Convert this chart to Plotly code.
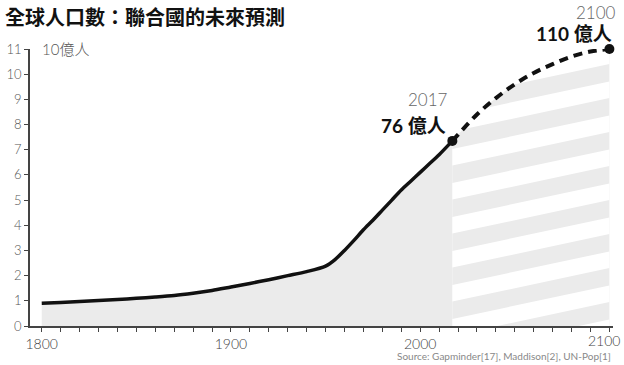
import numpy as np
import plotly.graph_objects as go

# ---- data ----
hist_years = [1800, 1810, 1820, 1830, 1840, 1850, 1860, 1870, 1880, 1890, 1900,
              1910, 1920, 1930, 1940, 1950, 1955, 1960, 1965, 1970, 1975, 1980,
              1985, 1990, 1995, 2000, 2005, 2010, 2017]
hist_pop = [0.90, 0.93, 0.97, 1.01, 1.05, 1.10, 1.15, 1.21, 1.30, 1.41, 1.55,
            1.69, 1.84, 2.00, 2.16, 2.38, 2.64, 3.00, 3.40, 3.82, 4.20, 4.60,
            5.00, 5.40, 5.75, 6.10, 6.45, 6.80, 7.35]

proj_years = [2017, 2020, 2030, 2040, 2050, 2060, 2070, 2080, 2090, 2100]
proj_pop = [7.35, 7.60, 8.40, 9.05, 9.60, 10.05, 10.40, 10.70, 10.90, 11.00]

x_tick_vals = list(range(1800, 2101, 10))
x_tick_labels = [str(v) if v % 100 == 0 and v < 2100 else "" for v in x_tick_vals]
last_x_label = "2100"
y_tick_vals = list(range(0, 12))
y_tick_labels = [str(v) for v in y_tick_vals]

title_text = "全球人口數：聯合國的未來預測"
unit_text = "10億人"
source_text = "Source: Gapminder[17], Maddison[2], UN-Pop[1]"

GRAY = "#ebebeb"
INK = "#111111"
CJK = "Lato, 'Noto Sans CJK TC', sans-serif"

fig = go.Figure()

# historical area
fig.add_trace(go.Scatter(x=hist_years, y=hist_pop, mode="none", fill="tozeroy",
                         fillcolor=GRAY, line=dict(shape="spline", smoothing=0.8),
                         hoverinfo="skip", showlegend=False))
# projection area
fig.add_trace(go.Scatter(x=proj_years, y=proj_pop, mode="none", fill="tozeroy",
                         fillcolor=GRAY, line=dict(shape="spline"),
                         hoverinfo="skip", showlegend=False))

# white diagonal stripes over projection area (decoration)
x0s, x1s = proj_years[0], proj_years[-1]
period, width, rise, phase = 1.35, 0.66, 1.33, 0.97
for k in range(-2, 9):
    lo = phase + k * period
    xs = [x0s, x1s, x1s, x0s, x0s]
    ys = [lo, lo + rise, lo + rise + width, lo + width, lo]
    fig.add_trace(go.Scatter(x=xs, y=ys, mode="none", fill="toself",
                             fillcolor="white", hoverinfo="skip", showlegend=False))

# historical line
fig.add_trace(go.Scatter(x=hist_years, y=hist_pop, mode="lines",
                         line=dict(color=INK, width=3.5, shape="spline", smoothing=0.8),
                         showlegend=False))
# projection dashed line
fig.add_trace(go.Scatter(x=proj_years, y=proj_pop, mode="lines",
                         line=dict(color=INK, width=4, dash="9px,6px", shape="spline"),
                         showlegend=False))
# end points
fig.add_trace(go.Scatter(x=[proj_years[0], proj_years[-1]], y=[proj_pop[0], proj_pop[-1]],
                         mode="markers", marker=dict(color=INK, size=10),
                         cliponaxis=False, showlegend=False))

fig.update_layout(
    width=624, height=365,
    margin=dict(l=30, r=11, t=49, b=39, autoexpand=False),
    paper_bgcolor="white", plot_bgcolor="white",
    xaxis=dict(range=[1793.8, 2101.9], tickmode="array", tickvals=x_tick_vals,
               ticktext=x_tick_labels, ticks="outside", ticklen=4, tickwidth=1,
               tickcolor="#444", showline=True, linecolor="#444", linewidth=1.5,
               showgrid=False, zeroline=False, automargin=False,
               tickfont=dict(family="Lato, sans-serif", size=14, color="#444", weight=300)),
    yaxis=dict(range=[0, 11], tickmode="array", tickvals=y_tick_vals,
               ticktext=y_tick_labels, ticks="outside", ticklen=4, tickwidth=1,
               tickcolor="#444", showline=True, linecolor="#444", linewidth=1.5,
               showgrid=False, zeroline=False, automargin=False,
               tickfont=dict(family="Lato, sans-serif", size=13, color="#555", weight=300)),
    annotations=[
        dict(text=title_text, xref="paper", yref="paper", x=-27/583, y=1 + 49/277,
             xanchor="left", yanchor="top", showarrow=False,
             font=dict(family="'Noto Sans CJK TC'", size=20, color="#111", weight="bold")),
        dict(text=unit_text, xref="paper", yref="y", x=10/583, y=11,
             xanchor="left", yanchor="middle", showarrow=False,
             font=dict(family=CJK, size=15, color="#555", weight=300)),
        dict(text="2017", xref="x", yref="y", x=proj_years[0], y=proj_pop[0],
             xshift=-24, yshift=41, xanchor="center", yanchor="middle", showarrow=False,
             font=dict(family="Lato, sans-serif", size=17, color="#666", weight=300)),
        dict(text="76 億人", xref="x", yref="y", x=proj_years[0], y=proj_pop[0],
             xshift=-4, yshift=15, xanchor="right", yanchor="middle", showarrow=False,
             font=dict(family=CJK, size=19, color="#111", weight="bold")),
        dict(text="2100", xref="x", yref="y", x=proj_years[-1], y=proj_pop[-1],
             xshift=-13, yshift=37, xanchor="center", yanchor="middle", showarrow=False,
             font=dict(family="Lato, sans-serif", size=17, color="#666", weight=300)),
        dict(text="110 億人", xref="x", yref="y", x=proj_years[-1], y=proj_pop[-1],
             xshift=5, yshift=16, xanchor="right", yanchor="middle", showarrow=False,
             font=dict(family=CJK, size=19, color="#111", weight="bold")),
        dict(text=last_x_label, xref="paper", yref="paper", x=1 + 9/583, y=-14/277,
             xanchor="right", yanchor="middle", showarrow=False,
             font=dict(family="Lato, sans-serif", size=14, color="#444", weight=300)),
        dict(text=source_text, xref="paper", yref="paper", x=1.0, y=-30/277,
             xanchor="right", yanchor="middle", showarrow=False,
             font=dict(family="Lato, sans-serif", size=10, color="#888")),
    ],
)

fig.write_html("out.html", config={"displayModeBar": False},
               post_script="document.body.style.margin='0';document.body.style.padding='0';")
